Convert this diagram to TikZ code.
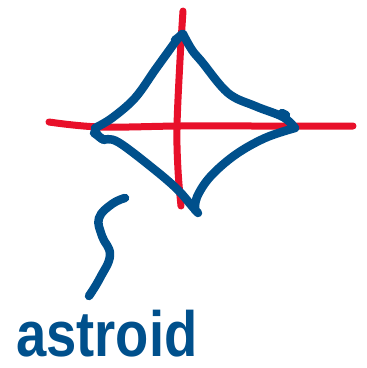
\documentclass[tikz,border=0pt]{standalone}
\usepackage{fontspec}
\setsansfont{Liberation Sans}
\definecolor{inkred}{HTML}{E8102A}
\definecolor{inkblue}{HTML}{00508C}
\begin{document}
\begin{tikzpicture}[x=1pt,y=-1pt,
  redstroke/.style={draw=inkred,line width=7pt,line cap=round,line join=round},
  bluestroke/.style={draw=inkblue,line width=8.5pt,line cap=round,line join=round}]
\useasboundingbox[fill=white] (0,0) rectangle (367,368);
% axes
\draw[redstroke] plot[smooth,tension=0.6] coordinates {(49,122) (100,127) (180,126) (260,126) (353,126)};
\draw[redstroke] plot[smooth,tension=0.6] coordinates {(183,11) (180,60) (177,127) (178,170) (181,206)};
% astroid
\draw[bluestroke] plot[smooth,tension=0.6] coordinates {(95,128) (112,118) (135,98) (155,70) (168,52) (176,41) (182,34)};
\draw[bluestroke] (175,40) -- (183,34);
\draw[bluestroke] plot[smooth,tension=0.6] coordinates {(183,34) (192,50) (202,62) (228,93) (255,106) (283,117) (295,128)};
\draw[bluestroke] (282,113) -- (286,115);
\draw[bluestroke] plot[smooth,tension=0.6] coordinates {(295,128) (265,138) (235,155) (210,177) (197,197) (195,210)};
\draw[bluestroke] plot[smooth,tension=0.6] coordinates {(96,132) (102,139) (118,142) (155,170) (178,190) (191,205) (198,213)};
\draw[bluestroke] (94,133) -- (104,140);
% leader
\draw[bluestroke] plot[smooth,tension=0.7] coordinates {(125,198) (112,204) (99,218) (102,236) (110,255) (100,278) (89,296)};
% label
\node[anchor=base west,inner sep=0pt,text=inkblue,xscale=0.85,font=\sffamily\bfseries\fontsize{64}{64}\selectfont] (lbl) at (16,356) {astroid};
\end{tikzpicture}
\end{document}
